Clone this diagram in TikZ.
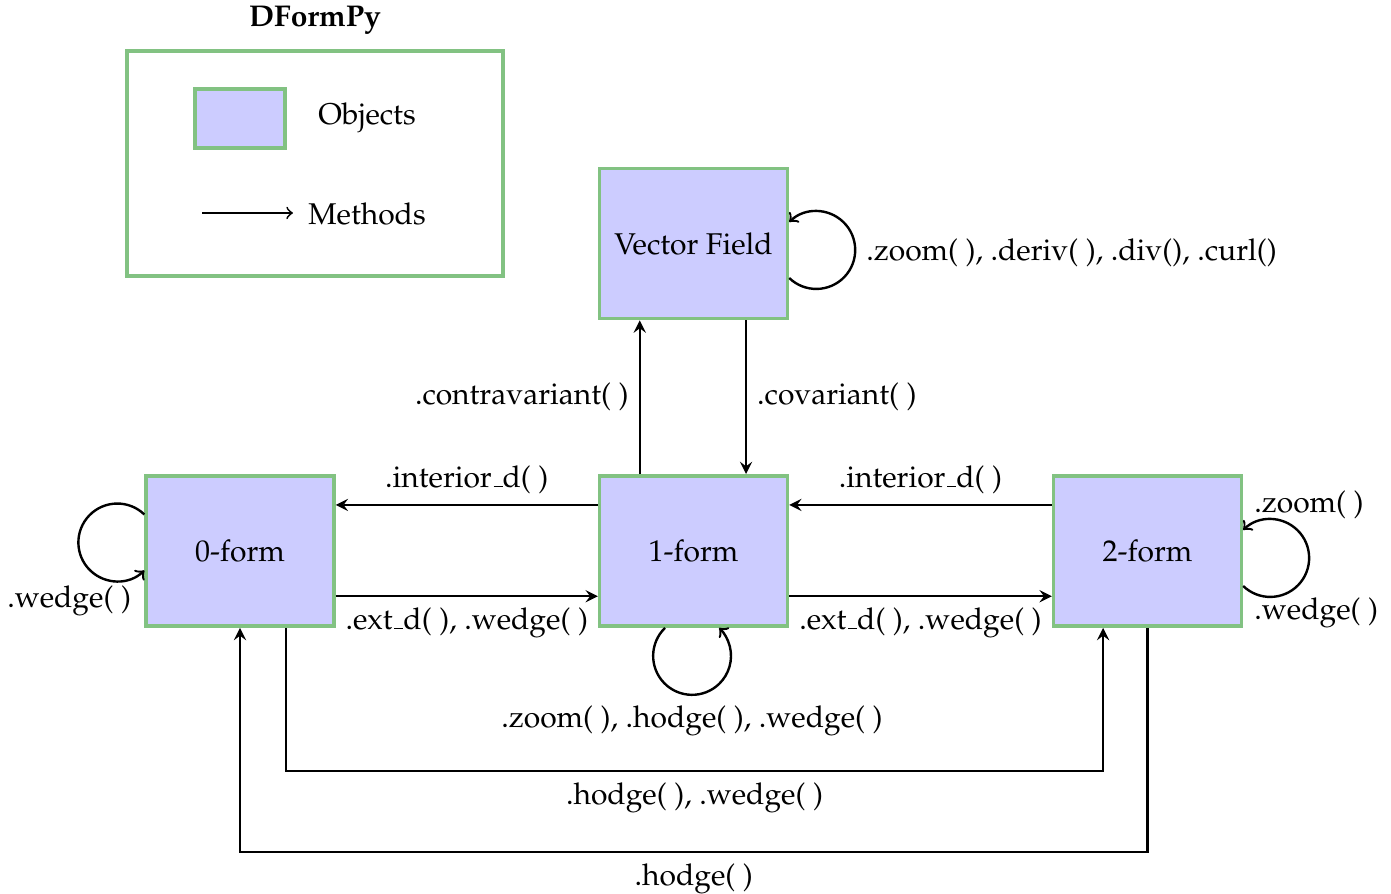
\documentclass[tikz,border=0pt]{standalone}
\usepackage[OT1]{fontenc}
\usepackage{mathpazo}
\usepackage{tikz}
\definecolor{objgreen}{RGB}{130,194,130}

\begin{document}
\begin{tikzpicture}[
    obj/.style={draw=objgreen,fill=blue!20,line width=1.2pt,minimum width=2.2cm,minimum height=1.76cm},
    meth/.style={-stealth,thick},
    selfm/.style={->,thick}]
\useasboundingbox (0,0) rectangle (16.296,-10.462);
\node (title) at (3.69,-0.234){\textbf{DFormPy}};
\node[draw=objgreen,line width=1.2pt,minimum width=4.405cm,minimum height=2.636cm] (legend) at (3.69,-1.915){};
\node[draw=objgreen,fill=blue!20,line width=1.2pt,minimum width=1.054cm,minimum height=0.69cm] (legobj) at (2.812,-1.388){};
\node (objects) at (4.30,-1.38){Objects};
\coordinate (ma) at (2.367,-2.495);
\coordinate (mb) at (3.432,-2.495);
\draw [-to,semithick](ma)--(mb);
\node (methods) at (4.30,-2.51){Methods};
\node[obj] (vf) at (8.125,-2.853){Vector Field};
\node[obj] (f0) at (2.812,-6.455){0-form};
\node[obj] (f1) at (8.125,-6.455){1-form};
\node[obj] (f2) at (13.443,-6.455){2-form};
\draw [meth]([xshift=0.615cm]vf.south)--([xshift=0.615cm]f1.north) node[midway,right]{.covariant( )};
\draw [meth]([xshift=-0.63cm]f1.north)--([xshift=-0.63cm]vf.south) node[midway,left]{.contravariant( )};
\draw [meth]([yshift=0.54cm]f1.west)--([yshift=0.54cm]f0.east) node[midway,above]{.interior\_d( )};
\draw [meth]([yshift=-0.53cm]f0.east)--([yshift=-0.53cm]f1.west) node[midway,below]{.ext\_d( ), .wedge( )};
\draw [meth]([yshift=0.54cm]f2.west)--([yshift=0.54cm]f1.east) node[midway,above]{.interior\_d( )};
\draw [meth]([yshift=-0.53cm]f1.east)--([yshift=-0.53cm]f2.west) node[midway,below]{.ext\_d( ), .wedge( )};
\coordinate (lowA) at (0,-9.032);
\coordinate (lowB) at (0,-9.981);
\draw [meth]([xshift=0.54cm]f0.south)--([xshift=0.54cm]f0.south |- lowA) -| ([xshift=-0.52cm]f2.south) node[pos=0.25,below]{.hodge( ), .wedge( )};
\draw [meth](f2.south)--(f2.south |- lowB) -| (f0.south) node[pos=0.25,below]{.hodge( )};
\draw [selfm]([yshift=-0.404cm]vf.east) arc[start angle=-134,end angle=134,radius=0.456cm] node[pos=0.5,right,yshift=-0.03cm]{.zoom(\ ), .deriv(\ ), .div(), .curl()};
\draw [selfm]([yshift=0.428cm]f0.west) arc[start angle=46,end angle=314,radius=0.456cm];
\node (wedge0) at (0.81,-7.04){.wedge( )};
\draw [selfm]([xshift=-0.334cm]f1.south) arc[start angle=134,end angle=406,radius=0.456cm] node[pos=0.5,below]{.zoom( ), .hodge( ), .wedge( )};
\draw [selfm]([yshift=-0.41cm]f2.east) arc[start angle=-134,end angle=134,radius=0.456cm] node[pos=0,below right]{.wedge( )} node[pos=1,above right]{.zoom( )};
\end{tikzpicture}
\end{document}
